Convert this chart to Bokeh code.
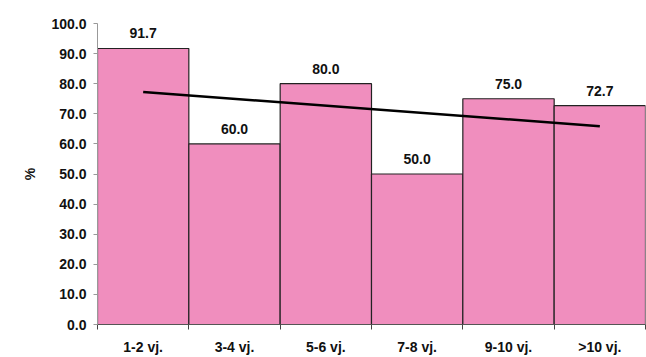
import numpy as np
from bokeh.plotting import figure
from bokeh.models import ColumnDataSource, FixedTicker, NumeralTickFormatter, Range1d
from bokeh.core.properties import value
from bokeh.embed import file_html
from bokeh.resources import INLINE

categories = ["1-2 vj.", "3-4 vj.", "5-6 vj.", "7-8 vj.", "9-10 vj.", ">10 vj."]
values = [91.7, 60.0, 80.0, 50.0, 75.0, 72.7]
y_ticks = [0, 10, 20, 30, 40, 50, 60, 70, 80, 90, 100]

FONT = "Liberation Sans"
x = list(range(1, len(categories) + 1))
labels = [f"{v:.1f}" for v in values]
src = ColumnDataSource(dict(x=x, top=values, label=labels))

p = figure(width=646, height=357, output_backend="svg", toolbar_location=None,
           x_range=Range1d(0.5, len(categories) + 0.5), y_range=Range1d(0, 100),
           min_border_left=97, min_border_right=1, min_border_top=23, min_border_bottom=30)
p.background_fill_color = "white"
p.border_fill_color = "white"
p.outline_line_color = None
p.grid.grid_line_color = None

p.vbar(x="x", top="top", width=1.0, bottom=0, source=src,
       fill_color="#F08EBE", line_color="#222222", line_width=1.2)

# linear trend line (least squares fit of the data)
slope, intercept = np.polyfit(x, values, 1)
tx = [x[0], x[-1]]
p.line(tx, [slope * t + intercept for t in tx], line_color="black", line_width=2.5)

p.text(x="x", y="top", text="label", source=src, text_align="center",
       text_baseline="bottom", y_offset=-10, text_font=value(FONT),
       text_font_style="bold", text_font_size="14px", text_color="#111111")

xa = p.xaxis[0]
xa.ticker = FixedTicker(ticks=x, minor_ticks=[i + 0.5 for i in range(0, len(categories) + 1)])
xa.major_label_overrides = {i: c for i, c in zip(x, categories)}
xa.major_tick_out = 0
xa.major_tick_in = 0
xa.minor_tick_out = 5
xa.minor_tick_in = 0
xa.minor_tick_line_color = "#444444"
xa.axis_line_color = "#555555"
xa.major_label_standoff = 9
xa.major_label_text_font = FONT
xa.major_label_text_font_style = "bold"
xa.major_label_text_font_size = "14px"
xa.major_label_text_color = "#111111"

ya = p.yaxis[0]
ya.ticker = FixedTicker(ticks=y_ticks)
ya.formatter = NumeralTickFormatter(format="0.0")
ya.major_tick_out = 4
ya.major_tick_in = 0
ya.minor_tick_line_color = None
ya.axis_line_color = "#999999"
ya.major_tick_line_color = "#999999"
ya.major_label_standoff = 7
ya.major_label_text_font = FONT
ya.major_label_text_font_style = "bold"
ya.major_label_text_font_size = "14px"
ya.major_label_text_color = "#111111"
ya.axis_label = "%"
ya.axis_label_text_font = FONT
ya.axis_label_text_font_style = "bold"
ya.axis_label_text_font_size = "14px"
ya.axis_label_text_color = "#111111"
ya.axis_label_standoff = 10

open("out.html", "w").write(file_html(p, INLINE))
